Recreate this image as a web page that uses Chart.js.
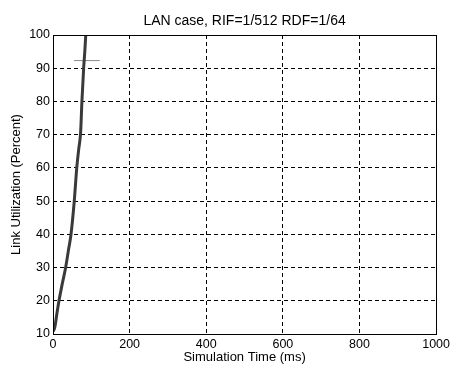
<!DOCTYPE html>
<html>
<head>
<meta charset="utf-8">
<script src="https://cdn.jsdelivr.net/npm/chart.js@4"></script>
<style>
  html, body { margin: 0; padding: 0; background: #fff; }
  #c { display: block; }
</style>
</head>
<body>
<canvas id="c" width="453" height="365"></canvas>
<script>
// ---- data ----
const titleText = 'LAN case, RIF=1/512 RDF=1/64';
const xLabel = 'Simulation Time (ms)';
const yLabel = 'Link Utilization (Percent)';

const timeMs = [1, 5, 10, 15.6, 24, 33, 40, 47, 55.5, 62, 67, 72, 75.5, 80, 83, 85.5];
const utilPct = [10.8, 12.2, 16, 20, 25, 30, 35, 40, 50, 60, 65.5, 70.5, 80, 90, 95, 100];

// small stray horizontal mark near 92%
const markTime = [55, 122];
const markPct = [92.3, 92.3];

const xTicks = [0, 200, 400, 600, 800, 1000];
const yTicks = [10, 20, 30, 40, 50, 60, 70, 80, 90, 100];

const FONT = '"Liberation Sans", Arial, Helvetica, sans-serif';

const toPoints = (xs, ys) => xs.map((x, i) => ({ x: x, y: ys[i] }));

const frameAndTitle = {
  id: 'frameAndTitle',
  afterDraw(chart) {
    const { ctx, chartArea: a } = chart;
    ctx.save();
    ctx.strokeStyle = '#000';
    ctx.lineWidth = 1;
    ctx.setLineDash([]);
    ctx.strokeRect(Math.round(a.left) + 0.5, Math.round(a.top) + 0.5,
                   Math.round(a.right - a.left), Math.round(a.bottom - a.top));
    ctx.fillStyle = '#000';
    ctx.font = '14px ' + FONT;
    ctx.textAlign = 'center';
    ctx.textBaseline = 'middle';
    ctx.fillText(titleText, (a.left + a.right) / 2, 21);
    ctx.restore();
  }
};

new Chart(document.getElementById('c'), {
  type: 'line',
  data: {
    datasets: [
      {
        data: toPoints(timeMs, utilPct),
        borderColor: '#3a3a3a',
        borderWidth: 3,
        pointRadius: 0,
        cubicInterpolationMode: 'monotone',
        fill: false
      },
      {
        data: toPoints(markTime, markPct),
        borderColor: '#8a8a8a',
        borderWidth: 1,
        pointRadius: 0,
        fill: false
      }
    ]
  },
  options: {
    responsive: false,
    animation: false,
    devicePixelRatio: 1,
    layout: { padding: { top: 35, right: 16, bottom: 0, left: 0 } },
    plugins: {
      legend: { display: false },
      tooltip: { enabled: false },
      title: { display: false }
    },
    scales: {
      x: {
        type: 'linear',
        min: 0,
        max: 1000,
        afterBuildTicks(scale) { scale.ticks = xTicks.map(v => ({ value: v })); },
        afterFit(scale) { scale.height = 31; },
        grid: { color: '#000', lineWidth: 1, drawTicks: false },
        border: { display: false, dash: [4, 3] },
        ticks: { color: '#000', font: { family: FONT, size: 12.5 }, padding: 3, maxRotation: 0,
                 callback: v => String(v) },
        title: { display: true, text: xLabel, color: '#000', font: { family: FONT, size: 13 }, padding: { top: 0, bottom: 0 } }
      },
      y: {
        type: 'linear',
        min: 10,
        max: 100,
        afterBuildTicks(scale) { scale.ticks = yTicks.map(v => ({ value: v })); },
        afterFit(scale) { scale.width = 53; },
        grid: { color: '#000', lineWidth: 1, drawTicks: false },
        border: { display: false, dash: [4, 3] },
        ticks: { color: '#000', font: { family: FONT, size: 12.5 }, padding: 3,
                 callback: v => String(v) },
        title: { display: true, text: yLabel, color: '#000', font: { family: FONT, size: 13 }, padding: { top: 9, bottom: 0 } }
      }
    }
  },
  plugins: [frameAndTitle]
});
</script>
</body>
</html>
